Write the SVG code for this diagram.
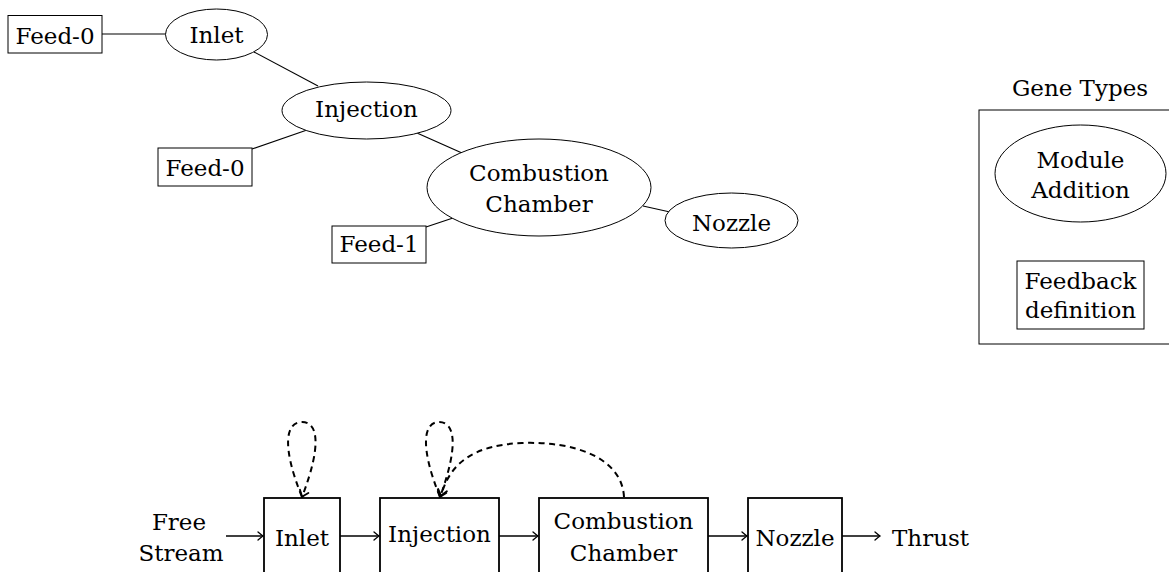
<svg xmlns="http://www.w3.org/2000/svg" width="1169" height="572" viewBox="0 0 1169 572" font-family="DejaVu Serif, serif">
<style>
text{font-size:23px;fill:#000;text-anchor:middle}
.n{fill:#fff;stroke:#000;stroke-width:1}
.b{fill:#fff;stroke:#000;stroke-width:1.8}
.e{fill:none;stroke:#000;stroke-width:1.1}
.a{fill:none;stroke:#000;stroke-width:1.3}
.d{fill:none;stroke:#000;stroke-width:2;stroke-dasharray:6,4.5}
</style>
<defs>
<marker id="tip" markerUnits="userSpaceOnUse" viewBox="-8 -6 10 12" markerWidth="10" markerHeight="12" refX="0" refY="0" orient="auto">
<path d="M-5,-4 Q-1.5,-1 0,0 Q-1.5,1 -5,4" fill="none" stroke="#000" stroke-width="1.3" stroke-linecap="round"/>
</marker>
<marker id="tipd" markerUnits="userSpaceOnUse" viewBox="-8 -6 10 12" markerWidth="10" markerHeight="12" refX="0" refY="0" orient="auto">
<path d="M-6,-4.5 Q-2,-1.2 0,0 Q-2,1.2 -6,4.5" fill="none" stroke="#000" stroke-width="1.9" stroke-linecap="round"/>
</marker>
</defs>
<g id="connectors">
<line class="e" x1="102" y1="34" x2="166" y2="34"/>
<line class="e" x1="254" y1="52" x2="318" y2="86"/>
<line class="e" x1="252" y1="149" x2="307" y2="130"/>
<line class="e" x1="417" y1="133" x2="462" y2="153"/>
<line class="e" x1="426" y1="227" x2="453" y2="218"/>
<line class="e" x1="643" y1="206" x2="670" y2="212"/>
<line class="a" x1="226" y1="536" x2="263" y2="536" marker-end="url(#tip)"/>
<line class="a" x1="340" y1="536" x2="379" y2="536" marker-end="url(#tip)"/>
<line class="a" x1="499" y1="536" x2="538" y2="536" marker-end="url(#tip)"/>
<line class="a" x1="708" y1="536" x2="747" y2="536" marker-end="url(#tip)"/>
<line class="a" x1="842" y1="536" x2="880" y2="536" marker-end="url(#tip)"/>
<path class="d" d="M302,497 C281,445 286,422 302,422 C318,422 322,445 302,497" marker-end="url(#tipd)"/>
<path class="d" d="M440,497 C419,445 424,422 439,422 C455,422 459,445 440,497" marker-end="url(#tipd)"/>
<path class="d" d="M624,497 C622,458 575,441 522,443 C475,445 450,462 441,496" marker-end="url(#tipd)"/>
</g>
<g id="feed0a"><rect class="n" x="8" y="15.5" width="94" height="37.5"/><text x="55" y="44">Feed-0</text></g>
<g id="inlet"><ellipse class="n" cx="216.5" cy="34.5" rx="51" ry="25.5"/><text x="216.5" y="43">Inlet</text></g>
<g id="injection"><ellipse class="n" cx="366.5" cy="110.5" rx="84.5" ry="28.5"/><text x="366.5" y="117">Injection</text></g>
<g id="feed0b"><rect class="n" x="158" y="148" width="94" height="38"/><text x="205" y="176">Feed-0</text></g>
<g id="combustion"><ellipse class="n" cx="539" cy="187.5" rx="112" ry="48.5"/><text x="539" y="181">Combustion</text><text x="539" y="212">Chamber</text></g>
<g id="feed1"><rect class="n" x="332" y="226" width="94" height="37"/><text x="379" y="252">Feed-1</text></g>
<g id="nozzle"><ellipse class="n" cx="731.5" cy="220.5" rx="66.5" ry="27.5"/><text x="731.5" y="231">Nozzle</text></g>
<g id="genetypes">
<text x="1080" y="96">Gene Types</text>
<rect class="n" x="979" y="110" width="200" height="234"/>
</g>
<g id="module"><ellipse class="n" cx="1080.5" cy="173.5" rx="85.5" ry="48.5"/><text x="1080.5" y="168">Module</text><text x="1080.5" y="198">Addition</text></g>
<g id="feedback"><rect class="n" x="1017" y="261" width="127" height="68"/><text x="1080.5" y="289">Feedback</text><text x="1080.5" y="318">definition</text></g>
<g id="freestream"><text x="179" y="530">Free</text><text x="181" y="561">Stream</text></g>
<g id="binlet"><rect class="b" x="264" y="498" width="76" height="110"/><text x="302" y="546">Inlet</text></g>
<g id="binjection"><rect class="b" x="380" y="498" width="119" height="110"/><text x="439.5" y="542">Injection</text></g>
<g id="bcombustion"><rect class="b" x="539" y="498" width="169" height="110"/><text x="623.5" y="529">Combustion</text><text x="623.5" y="561">Chamber</text></g>
<g id="bnozzle"><rect class="b" x="748" y="498" width="94" height="110"/><text x="795" y="546">Nozzle</text></g>
<g id="thrust"><text x="892" y="546" style="text-anchor:start">Thrust</text></g>
</svg>
